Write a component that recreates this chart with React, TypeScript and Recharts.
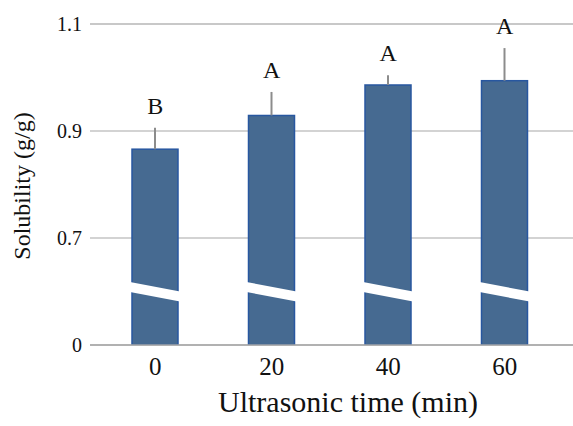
import {
  ComposedChart, Bar, Line, XAxis, YAxis, CartesianGrid,
  ErrorBar, LabelList,
} from "recharts"

const CATEGORIES = ["0", "20", "40", "60"]
const SOLUBILITY = [0.866, 0.929, 0.986, 0.994]
const SD = [0.040, 0.044, 0.018, 0.061]
const LETTERS = ["B", "A", "A", "A"]
const Y_TICKS = [0, 0.7, 0.9, 1.1]

const FONT = '"Liberation Serif", "Times New Roman", serif'

// broken axis: 0..0.7 squeezed into one step, then 0.2 per step
function toDisplay(v: number) {
  if (v <= 0.7) return v / 0.7
  return 1 + (v - 0.7) / 0.2
}

const data = CATEGORIES.map((time, i) => {
  const d = toDisplay(SOLUBILITY[i])
  const top = toDisplay(SOLUBILITY[i] + SD[i])
  return { time, d, top, err: [0, top - d], letter: LETTERS[i] }
})

const tickPos = Y_TICKS.map(toDisplay)

function fmtTick(v: number) {
  const i = tickPos.findIndex(t => Math.abs(t - v) < 1e-6)
  return i >= 0 ? String(Y_TICKS[i]) : ""
}

// bar with a white slanted gap marking the axis break
function BrokenBar(props: any) {
  const { x, y, width, height } = props
  const bottom = y + height
  return (
    <g>
      <rect x={x} y={y} width={width} height={height}
        fill="#466a91" stroke="#2857a0" strokeWidth={1.5} />
      <polygon
        fill="#ffffff"
        points={`${x - 2},${bottom - 63} ${x + width + 2},${bottom - 53.5} ${x + width + 2},${bottom - 43.5} ${x - 2},${bottom - 53}`}
      />
    </g>
  )
}

function LetterLabel(props: any) {
  const { x, y, value } = props
  return (
    <text x={x} y={y - 14} textAnchor="middle" fontSize={24} fontFamily={FONT} fill="#111">
      {value}
    </text>
  )
}

function YTitle() {
  return (
    <text transform="translate(30,186) rotate(-90)" textAnchor="middle"
      fontSize={24} fontFamily={FONT} fill="#111">
      Solubility (g/g)
    </text>
  )
}

function XTitle() {
  return (
    <text x={348} y={412} textAnchor="middle" fontSize={30} fontFamily={FONT} fill="#111">
      Ultrasonic time (min)
    </text>
  )
}

export default function App() {
  return (
    <div style={{ position: "absolute", left: 0, top: 0, background: "#fff" }}>
      <ComposedChart width={573} height={426} data={data}
        margin={{ top: 24, right: 0, left: 0, bottom: 0 }}>
        <CartesianGrid horizontal vertical={false} stroke="#c4c4c4" strokeWidth={1.5} />
        <XAxis
          dataKey="time"
          height={81}
          padding={{ left: 7, right: 10 }}
          tickLine={false}
          axisLine={{ stroke: "#a6a6a6", strokeWidth: 1.5 }}
          tickMargin={6}
          tick={{ fontSize: 25, fontFamily: FONT, fill: "#111" }}
          label={<XTitle />}
        />
        <YAxis
          type="number"
          width={90}
          domain={[0, 3]}
          ticks={tickPos}
          allowDataOverflow
          tickFormatter={fmtTick}
          axisLine={false}
          tickLine={false}
          tick={{ fontSize: 20, fontFamily: FONT, fill: "#111" }}
          label={<YTitle />}
        />
        <Bar dataKey="d" barSize={46} shape={<BrokenBar />} isAnimationActive={false}>
          <ErrorBar dataKey="err" direction="y" width={0} stroke="#8c8c8c" strokeWidth={2} />
        </Bar>
        <Line dataKey="top" stroke="none" dot={false} activeDot={false}
          legendType="none" isAnimationActive={false}>
          <LabelList dataKey="letter" content={<LetterLabel />} />
        </Line>
      </ComposedChart>
    </div>
  )
}
